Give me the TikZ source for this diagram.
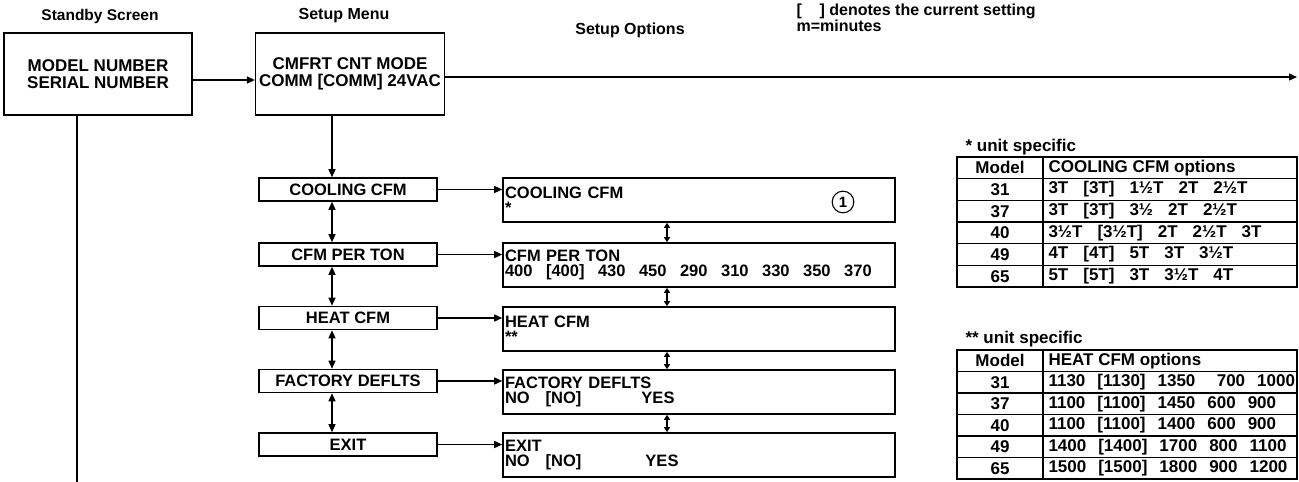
\documentclass[tikz,border=0pt]{standalone}
\usepackage{fontspec}
\setmainfont{Liberation Sans}
\usetikzlibrary{arrows.meta}

\newcommand{\tgap}{\hspace{13.5pt}}
\newcommand{\cgap}{\hspace{15pt}}
\newcommand{\hgap}{\hspace{12pt}}

\begin{document}
\begin{tikzpicture}[x=1pt,y=-1pt,>={Triangle[length=8pt,width=7pt]},
    every node/.style={font=\bfseries\fontsize{17}{17}\selectfont},
    head/.style={font=\bfseries\fontsize{16}{16}\selectfont},
    screen/.style={draw,line width=1.6pt,minimum width=188pt,minimum height=82pt,
      align=center,font=\bfseries\fontsize{17}{17}\selectfont},
    menubox/.style={draw,line width=1.6pt,minimum width=178pt,minimum height=23pt,inner sep=0pt,
      font=\bfseries\fontsize{16.5}{16.5}\selectfont},
    optbox/.style={draw,line width=1.6pt,minimum width=392pt,minimum height=44pt,
      text width=388pt,inner xsep=2pt,align=left,font=\bfseries\fontsize{16.5}{15.5}\selectfont},
    link/.style={line width=1.4pt},
    grid/.style={line width=1.1pt}]

  \useasboundingbox (0,0) rectangle (1299,482);

  % column headings
  \node[head,font=\bfseries\fontsize{15.5}{15.5}\selectfont] (hSB) at (100,16) {Standby Screen};
  \node[head] (hSM) at (344,16) {Setup Menu};
  \node[head] (hSO) at (630,30) {Setup Options};
  \node[anchor=west,align=left,font=\bfseries\fontsize{16}{13}\selectfont] (note) at (793,18)
    {[\ \ \ \ ] denotes the current setting\\m=minutes};

  % screens
  \node[screen] (SB) at (98,74) {MODEL NUMBER\\SERIAL NUMBER};
  \node[screen,minimum width=186pt] (SM) at (350,74) {CMFRT CNT MODE\\COMM [COMM] 24VAC};

  \coordinate (far) at (1297,77);
  \coordinate (sbline) at (77,482);
  \coordinate (spine) at (332,0);
  \coordinate (ospine) at (667,0);

  \draw[link,->] ([yshift=-6pt]SB.east) -- ([yshift=-6pt]SM.west);
  \draw[link,->] ([yshift=-3pt]SM.east) -- (far);
  \draw[link] (sbline |- SB.south) -- (sbline);

  % setup menu
  \node[menubox] (mCool) at (348,189.5) {COOLING CFM};
  \node[menubox] (mTon) at (348,254.5) {CFM PER TON};
  \node[menubox] (mHeat) at (348,318) {HEAT CFM};
  \node[menubox] (mDef) at (348,381) {FACTORY DEFLTS};
  \node[menubox] (mExit) at (348,444.5) {EXIT};

  % setup options
  \node[optbox] (oCool) at (699,200) {COOLING CFM\\{*}};
  \node[optbox] (oTon) at (699,265) {CFM PER TON\\400\tgap[400]\tgap 430\tgap 450\tgap 290\tgap 310\tgap 330\tgap 350\tgap 370};
  \node[optbox] (oHeat) at (699,329) {HEAT CFM\\{**}};
  \node[optbox] (oDef) at (699,392) {FACTORY DEFLTS\\NO\hspace{16pt}[NO]\hspace{60pt}YES};
  \node[optbox] (oExit) at (699,455) {EXIT\\NO\hspace{16pt}[NO]\hspace{64pt}YES};
  \node[draw,circle,line width=1.1pt,inner sep=3pt,font=\bfseries\fontsize{15}{15}\selectfont] (one) at (843,202) {1};

  \draw[link,->] (spine |- SM.south) -- (spine |- mCool.north);
  \foreach \a/\b in {mCool/mTon,mTon/mHeat,mHeat/mDef,mDef/mExit}
    \draw[link,<->] (spine |- \a.south) -- (spine |- \b.north);
  \foreach \a/\b in {oCool/oTon,oTon/oHeat,oHeat/oDef,oDef/oExit}
    \draw[link,<->,>={Triangle[length=5pt,width=6pt]}] (ospine |- \a.south) -- (ospine |- \b.north);
  \foreach \m/\o in {mCool/oCool,mTon/oTon,mHeat/oHeat,mDef/oDef,mExit/oExit}
    \draw[link,->] (\m.east) -- (\m.east -| \o.west);

  % cooling cfm table
  \node[anchor=west] (uCool) at (962,147) {* unit specific};
  \draw[grid] (957,157) rectangle (1297,287);
  \draw[grid] (1043,157) -- (1043,287);
  \foreach \k in {1,...,5}
    \draw[grid] (957,{157+21.67*\k}) -- (1297,{157+21.67*\k});
  \foreach \mdl/\opt [count=\r] in {Model/COOLING CFM options,
      31/3T\cgap[3T]\cgap 1½T\cgap 2T\cgap 2½T,
      37/3T\cgap[3T]\cgap 3½\cgap 2T\cgap 2½T,
      40/3½T\cgap[3½T]\cgap 2T\cgap 2½T\cgap 3T,
      49/4T\cgap[4T]\cgap 5T\cgap 3T\cgap 3½T,
      65/5T\cgap[5T]\cgap 3T\cgap 3½T\cgap 4T} {
    \node (cm\r) at (1000,{157+21.67*(\r-0.5)}) {\mdl};
    \node[anchor=west] (co\r) at (1045,{157+21.67*(\r-0.5)}) {\opt};
  }

  % heat cfm table
  \node[anchor=west] (uHeat) at (962,339) {** unit specific};
  \draw[grid] (957,350) rectangle (1297,479);
  \draw[grid] (1043,350) -- (1043,479);
  \foreach \k in {1,...,5}
    \draw[grid] (957,{350+21.5*\k}) -- (1297,{350+21.5*\k});
  \foreach \mdl/\opt [count=\r] in {Model/HEAT CFM options,
      31/1130\hgap[1130]\hgap 1350\hgap\ \ 700\hgap 1000,
      37/1100\hgap[1100]\hgap 1450\hgap 600\hgap 900,
      40/1100\hgap[1100]\hgap 1400\hgap 600\hgap 900,
      49/1400\hgap[1400]\hgap 1700\hgap 800\hgap 1100,
      65/1500\hgap[1500]\hgap 1800\hgap 900\hgap 1200} {
    \node (hm\r) at (1000,{350+21.5*(\r-0.5)}) {\mdl};
    \node[anchor=west] (ho\r) at (1045,{350+21.5*(\r-0.5)}) {\opt};
  }

\end{tikzpicture}
\end{document}
